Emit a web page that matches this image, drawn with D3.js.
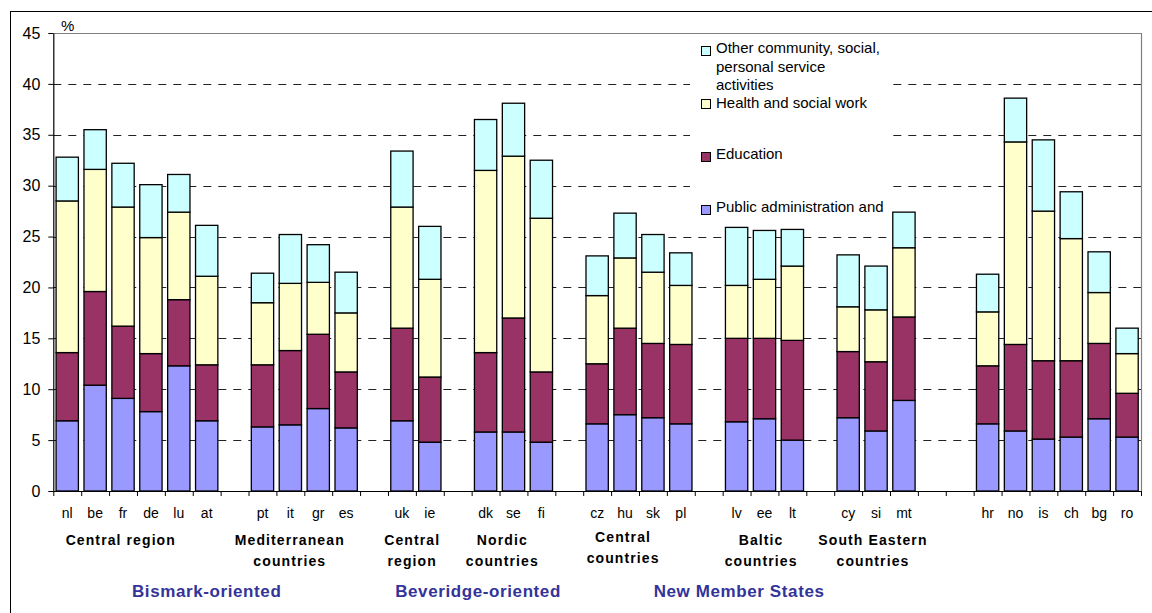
<!DOCTYPE html>
<html>
<head>
<meta charset="utf-8">
<script src="https://cdn.jsdelivr.net/npm/d3@7"></script>
<style>
  body { margin: 0; background: #fff; }
  svg { display: block; font-family: "Liberation Sans", Arial, sans-serif; }
</style>
</head>
<body>
<svg id="chart" width="1152" height="613"></svg>
<script>
// Category slots along the x axis; null marks an empty spacer slot between groups
const slots = ["nl","be","fr","de","lu","at",null,"pt","it","gr","es",null,"uk","ie",null,
  "dk","se","fi",null,"cz","hu","sk","pl",null,"lv","ee","lt",null,"cy","si","mt",null,null,
  "hr","no","is","ch","bg","ro"];
const countries = slots.filter(d => d !== null);

// Employment shares (%) by sector, one value per country in the order above
const publicAdmin   = [6.9,10.4,9.1,7.8,12.3,6.9, 6.3,6.5,8.1,6.2, 6.9,4.8, 5.8,5.8,4.8, 6.6,7.5,7.2,6.6, 6.8,7.1,5.0, 7.2,5.9,8.9, 6.6,5.9,5.1,5.3,7.1,5.3];
const education     = [6.7,9.2,7.1,5.7,6.5,5.5, 6.1,7.3,7.3,5.5, 9.1,6.4, 7.8,11.2,6.9, 5.9,8.5,7.3,7.8, 8.2,7.9,9.8, 6.5,6.8,8.2, 5.7,8.5,7.7,7.5,7.4,4.3];
const health        = [14.9,12.0,11.7,11.4,8.6,8.7, 6.1,6.6,5.1,5.8, 11.9,9.6, 17.9,15.9,15.1, 6.7,6.9,7.0,5.8, 5.2,5.8,7.3, 4.4,5.1,6.8, 5.3,19.9,14.7,12.0,5.0,3.9];
const otherServices = [4.3,3.9,4.3,5.2,3.7,5.0, 2.9,4.8,3.7,4.0, 5.5,5.2, 5.0,5.2,5.7, 3.9,4.4,3.7,3.2, 5.7,4.8,3.6, 5.1,4.3,3.5, 3.7,4.3,7.0,4.6,4.0,2.5];

const seriesKeys = ["publicAdmin","education","health","otherServices"];
const seriesLegend = [
  ["Other community, social,", "personal service", "activities"],
  ["Health and social work"],
  ["Education"],
  ["Public administration and"]
];
const yTicks = [0,5,10,15,20,25,30,35,40,45];
const yUnit = "%";

const regionLabels = [["Central region"],["Mediterranean","countries"],["Central","region"],
  ["Nordic","countries"],["Central","countries"],["Baltic","countries"],["South Eastern","countries"]];
const blocLabels = ["Bismark-oriented","Beveridge-oriented","New Member States"];

// ---- layout ----
const plot = { left: 53.3, right: 1141, top: 33, bottom: 491 };
const regionAnchors = [2.42, 8.48, 12.87, 16.1, 20.43, 25.38, 29.39]; // in slot units
const regionLift = [0, 0, 0, 0, 3, 0, 0];
const blocAnchors = [5.5, 15.23, 24.59];
const colors = { publicAdmin: "#9999FF", education: "#993366", health: "#FFFFCC", otherServices: "#CCFFFF" };
const legendColors = [colors.otherServices, colors.health, colors.education, colors.publicAdmin];

const svg = d3.select("#chart");

// outer chart frame
svg.append("rect").attr("x", 10.5).attr("y", 11.5).attr("width", 1160).attr("height", 620)
  .attr("fill", "none").attr("stroke", "#000").attr("stroke-width", 1);

const x = d3.scaleBand().domain(d3.range(slots.length))
  .range([plot.left, plot.right]).paddingInner(0.2).paddingOuter(0.1);
const slotPos = d3.scaleLinear().domain([0, slots.length]).range([plot.left, plot.right]);
const y = d3.scaleLinear().domain([0, 45]).range([plot.bottom, plot.top]);

// gridlines
svg.append("g").selectAll("line").data(yTicks.filter(v => v > 0 && v < 45)).join("line")
  .attr("x1", plot.left).attr("x2", plot.right)
  .attr("y1", d => Math.round(y(d)) + 0.5).attr("y2", d => Math.round(y(d)) + 0.5)
  .attr("stroke", "#222").attr("stroke-width", 1).attr("stroke-dasharray", "8,7");

// plot area border (top and right)
svg.append("path")
  .attr("d", `M${plot.left},${Math.round(y(45)) + 0.5}H${plot.right + 0.5}V${plot.bottom}`)
  .attr("fill", "none").attr("stroke", "#808080").attr("stroke-width", 1.2);

// rows for stacking
const slotIndex = slots.map((d, i) => d === null ? -1 : i).filter(i => i >= 0);
const rows = countries.map((c, i) => ({
  country: c, slot: slotIndex[i],
  publicAdmin: publicAdmin[i], education: education[i], health: health[i], otherServices: otherServices[i]
}));
const stacked = d3.stack().keys(seriesKeys)(rows);

svg.append("g").selectAll("g").data(stacked).join("g")
  .attr("fill", d => colors[d.key])
  .selectAll("rect").data(d => d).join("rect")
  .attr("x", d => x(d.data.slot))
  .attr("width", x.bandwidth())
  .attr("y", d => y(d[1]))
  .attr("height", d => y(d[0]) - y(d[1]))
  .attr("stroke", "#000").attr("stroke-width", 1.3);

// y axis
const yAxis = svg.append("g").attr("transform", `translate(${plot.left},0)`)
  .call(d3.axisLeft(y).tickValues(yTicks).tickSize(5).tickSizeOuter(0).tickPadding(8));
yAxis.select(".domain").attr("stroke", "#000").attr("stroke-width", 1.2);
yAxis.selectAll(".tick line").attr("stroke", "#000");
yAxis.selectAll(".tick text").attr("font-size", 16).attr("fill", "#000")
  .attr("font-family", '"Liberation Sans", Arial, sans-serif');

svg.append("text").attr("x", 61).attr("y", 31).attr("font-size", 15).text(yUnit);

// x axis with tick marks between categories
const xAxis = svg.append("g").attr("transform", `translate(0,${plot.bottom})`)
  .call(d3.axisBottom(slotPos).tickValues(d3.range(slots.length + 1)).tickSize(5).tickSizeOuter(0).tickFormat(""));
xAxis.select(".domain").attr("stroke", "#000").attr("stroke-width", 1.2);
xAxis.selectAll(".tick line").attr("stroke", "#000");

// country labels
svg.append("g").selectAll("text").data(rows).join("text")
  .attr("x", d => x(d.slot) + x.bandwidth() / 2)
  .attr("y", 518)
  .attr("text-anchor", "middle").attr("font-size", 14).attr("fill", "#000")
  .text(d => d.country);

// region labels
const rg = svg.append("g").attr("font-weight", "bold").attr("font-size", 14)
  .attr("letter-spacing", "1.1px").attr("text-anchor", "middle").attr("fill", "#000");
regionLabels.forEach((lines, i) => {
  lines.forEach((t, j) => {
    rg.append("text")
      .attr("x", slotPos(regionAnchors[i]))
      .attr("y", 545 + j * 21 - regionLift[i])
      .text(t);
  });
});

// welfare-model labels
svg.append("g").selectAll("text").data(blocLabels).join("text")
  .attr("x", (d, i) => slotPos(blocAnchors[i]))
  .attr("y", 597)
  .attr("text-anchor", "middle").attr("font-size", 17).attr("font-weight", "bold")
  .attr("letter-spacing", "0.6px").attr("fill", "#333399")
  .text(d => d);

// legend
const lg = svg.append("g");
lg.append("rect").attr("x", 690).attr("y", 38).attr("width", 197).attr("height", 184).attr("fill", "#fff");
const legendTop = [51, 104, 157, 210];
seriesLegend.forEach((lines, i) => {
  lg.append("rect").attr("x", 701.5).attr("y", legendTop[i] - 4.5).attr("width", 9).attr("height", 9)
    .attr("fill", legendColors[i]).attr("stroke", "#000").attr("stroke-width", 1);
  lines.forEach((t, j) => {
    lg.append("text").attr("x", 716).attr("y", legendTop[i] + 2 + (i === 1 ? 2 : 0) + j * 18.5)
      .attr("font-size", 15).attr("fill", "#000").text(t);
  });
});
</script>
</body>
</html>
